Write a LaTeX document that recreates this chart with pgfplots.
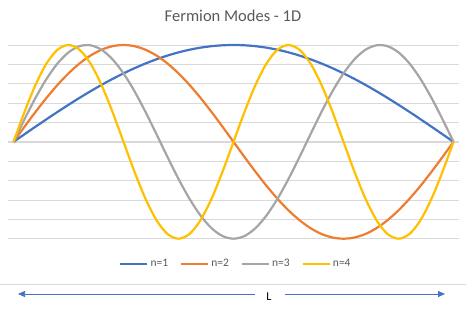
\documentclass[border=0pt]{standalone}
\usepackage{pgfplots}
\pgfplotsset{compat=1.18}
\usepackage{pgfplotstable}
\usetikzlibrary{arrows.meta}
\usepackage{fontspec}
\setmainfont{Carlito}
\definecolor{c1}{RGB}{68,114,196}
\definecolor{c2}{RGB}{237,125,49}
\definecolor{c3}{RGB}{165,165,165}
\definecolor{c4}{RGB}{255,192,0}
\definecolor{gridc}{RGB}{217,217,217}
\definecolor{txt}{RGB}{89,89,89}
\pgfplotstableread{
k n1 n2 n3 n4
0 0 0 0 0
1 0.0785 0.1564 0.2334 0.3090
2 0.1564 0.3090 0.4540 0.5878
3 0.2334 0.4540 0.6494 0.8090
4 0.3090 0.5878 0.8090 0.9511
5 0.3827 0.7071 0.9239 1.0000
6 0.4540 0.8090 0.9877 0.9511
7 0.5225 0.8910 0.9969 0.8090
8 0.5878 0.9511 0.9511 0.5878
9 0.6494 0.9877 0.8526 0.3090
10 0.7071 1.0000 0.7071 0
11 0.7604 0.9877 0.5225 -0.3090
12 0.8090 0.9511 0.3090 -0.5878
13 0.8526 0.8910 0.0785 -0.8090
14 0.8910 0.8090 -0.1564 -0.9511
15 0.9239 0.7071 -0.3827 -1.0000
16 0.9511 0.5878 -0.5878 -0.9511
17 0.9724 0.4540 -0.7604 -0.8090
18 0.9877 0.3090 -0.8910 -0.5878
19 0.9969 0.1564 -0.9724 -0.3090
20 1.0000 0 -1.0000 0
21 0.9969 -0.1564 -0.9724 0.3090
22 0.9877 -0.3090 -0.8910 0.5878
23 0.9724 -0.4540 -0.7604 0.8090
24 0.9511 -0.5878 -0.5878 0.9511
25 0.9239 -0.7071 -0.3827 1.0000
26 0.8910 -0.8090 -0.1564 0.9511
27 0.8526 -0.8910 0.0785 0.8090
28 0.8090 -0.9511 0.3090 0.5878
29 0.7604 -0.9877 0.5225 0.3090
30 0.7071 -1.0000 0.7071 0
31 0.6494 -0.9877 0.8526 -0.3090
32 0.5878 -0.9511 0.9511 -0.5878
33 0.5225 -0.8910 0.9969 -0.8090
34 0.4540 -0.8090 0.9877 -0.9511
35 0.3827 -0.7071 0.9239 -1.0000
36 0.3090 -0.5878 0.8090 -0.9511
37 0.2334 -0.4540 0.6494 -0.8090
38 0.1564 -0.3090 0.4540 -0.5878
39 0.0785 -0.1564 0.2334 -0.3090
40 0 0 0 0
}\datatable
\begin{document}
\begin{tikzpicture}[x=1pt,y=1pt]
\useasboundingbox (0,0) rectangle (466,308);
\node[text=txt,font=\fontsize{16.5}{19}\selectfont] at (233,292) {Fermion Modes - 1D};
\begin{axis}[
  at={(8pt,69.3pt)}, anchor=south west,
  scale only axis, width=451pt, height=193.7pt,
  xmin=-0.5, xmax=40.5, ymin=-1, ymax=1,
  axis line style={draw=none},
  xtick=\empty,
  ytick={-1,-0.8,-0.6,-0.4,-0.2,0.2,0.4,0.6,0.8,1},
  yticklabels={},
  major tick length=0pt,
  ymajorgrids,
  grid style={gridc, line width=0.75pt},
  extra y ticks={0}, extra y tick labels={},
  extra y tick style={grid style={gridc, line width=2.5pt}},
  clip=false,
  legend columns=4,
  legend style={draw=none, fill=none, at={(0.5055,-0.1306)}, anchor=center,
    font=\fontsize{11.5}{13}\selectfont, text=txt,
    /tikz/every even column/.append style={column sep=10pt},
    inner sep=0pt},
  legend image code/.code={\draw[#1] (0pt,0pt) -- (27pt,0pt);},
  every axis plot/.append style={line width=2.2pt, smooth, tension=0.5},
]
\addplot[c1] table[x=k,y=n1] {\datatable};
\addplot[c2] table[x=k,y=n2] {\datatable};
\addplot[c3] table[x=k,y=n3] {\datatable};
\addplot[c4] table[x=k,y=n4] {\datatable};
\legend{n=1,n=2,n=3,n=4}
\end{axis}
\draw[gridc, line width=0.75pt] (0,24) -- (466,24);
\draw[c1, line width=0.75pt, -{Triangle[length=7pt,width=6pt]}] (255,14) -- (18,14);
\draw[c1, line width=0.75pt, -{Triangle[length=7pt,width=6pt]}] (285,14) -- (445,14);
\node[font=\fontsize{12}{14}\selectfont] at (269,11) {L};
\end{tikzpicture}
\end{document}
